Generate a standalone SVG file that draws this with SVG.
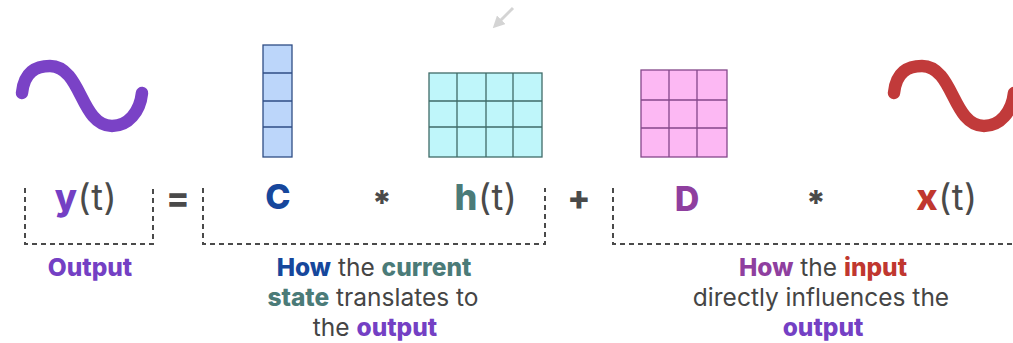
<svg xmlns="http://www.w3.org/2000/svg" width="1013" height="343" viewBox="0 0 1013 343">
<defs>
<style>
.wave{fill:none;stroke-width:12.5;stroke-linecap:round;stroke-linejoin:round}
.eq{font-family:Inter,"Liberation Sans",sans-serif;font-size:34px;text-anchor:middle;fill:#4a4a4a}
.eqt{font-size:36px;letter-spacing:0.5px}
.b{font-weight:800}
.lbl{font-family:Inter,"Liberation Sans",sans-serif;font-size:24.5px;text-anchor:middle;fill:#454545}
.br{fill:none;stroke:#4a4a4a;stroke-width:2;stroke-dasharray:5 4}
.cb{fill:#bcd6fa;stroke:#2f4d85;stroke-width:1.3}
.cy{fill:#bff6fa;stroke:#3f6b68;stroke-width:1.3}
.pk{fill:#fcb8f3;stroke:#84478a;stroke-width:1.3}
.purple{fill:#7440c4}
.blue{fill:#16479c}
.teal{fill:#4b7b78}
.mag{fill:#8f3f9f}
.red{fill:#c0372f}
</style>
<marker id="ah" viewBox="0 0 10 10" refX="5" refY="5" markerWidth="4" markerHeight="4" orient="auto-start-reverse">
<path d="M0,0 L10,5 L0,10 z" fill="#d4d4d4"/>
</marker>
</defs>
<rect width="1013" height="343" fill="#ffffff"/>

<g id="wave-y">
<path class="wave" stroke="#7a42c6" d="M22,93 C24,72 36,66 50,66 C66,66 74,82 81,96 C88,110 96,126 112,126 C128,126 140,112 142,93"/>
</g>
<g id="wave-x">
<path class="wave" stroke="#c13a3a" d="M894,93 C896,72 908,66 922,66 C938,66 946,82 953,96 C960,110 968,126 984,126 C1000,126 1012,112 1014,93"/>
</g>

<g id="matrix-C">
<rect class="cb" x="263" y="45" width="29" height="112"/>
<path class="cb" d="M263,73 H292 M263,101 H292 M263,127 H292"/>
</g>
<g id="matrix-h">
<rect class="cy" x="429" y="73" width="113" height="84"/>
<path class="cy" d="M457,73 V157 M486,73 V157 M513,73 V157 M429,101 H542 M429,127 H542"/>
</g>
<g id="matrix-D">
<rect class="pk" x="641" y="70" width="86" height="87"/>
<path class="pk" d="M669,70 V157 M697,70 V157 M641,100 H727 M641,128 H727"/>
</g>

<g id="connectors">
<line x1="513" y1="8" x2="497" y2="24" stroke="#d4d4d4" stroke-width="3" marker-end="url(#ah)"/>
</g>

<g id="brackets">
<path class="br" d="M25,188 V244 H153 V188"/>
<path class="br" d="M203,188 V244 H545 V188"/>
<path class="br" d="M613,188 V244 H1013"/>
</g>

<g id="equation">
<text class="eq eqt" x="86" y="210"><tspan class="b purple">y</tspan>(t)</text>
<text class="eq b" x="178" y="210">=</text>
<text class="eq b blue" x="278" y="209">C</text>
<text class="eq b" x="382" y="215">*</text>
<text class="eq eqt" x="486" y="210"><tspan class="b teal">h</tspan>(t)</text>
<text class="eq b" x="579" y="210">+</text>
<text class="eq b mag" x="687" y="211">D</text>
<text class="eq b" x="816" y="215">*</text>
<text class="eq eqt" x="947" y="210"><tspan class="b red">x</tspan>(t)</text>
</g>

<g id="label-output">
<text class="lbl b purple" x="90" y="276">Output</text>
</g>
<g id="label-C">
<text class="lbl" x="374" y="276"><tspan class="b blue">How</tspan> the <tspan class="b teal">current</tspan></text>
<text class="lbl" x="373" y="306"><tspan class="b teal">state</tspan> translates to</text>
<text class="lbl" x="375" y="336">the <tspan class="b purple">output</tspan></text>
</g>
<g id="label-D">
<text class="lbl" x="823" y="276"><tspan class="b mag">How</tspan> the <tspan class="b red">input</tspan></text>
<text class="lbl" x="821" y="306">directly influences the</text>
<text class="lbl b purple" x="823" y="336">output</text>
</g>
</svg>
